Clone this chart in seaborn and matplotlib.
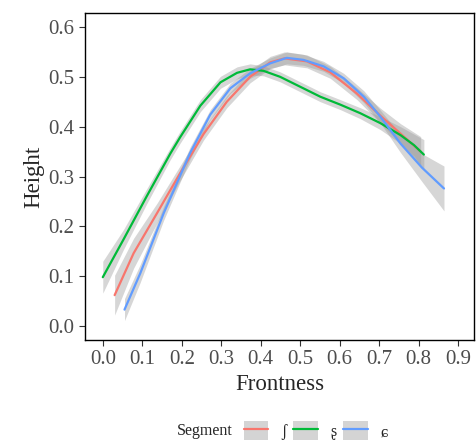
import pandas as pd
import matplotlib
matplotlib.use('Agg')
import matplotlib.pyplot as plt
import seaborn as sns
from matplotlib.lines import Line2D
from matplotlib.patches import Patch
from matplotlib.legend_handler import HandlerTuple

# values (smoothed curves + confidence half-widths)
segments = ['ʃ', 'ʂ', 'ɕ']
colors = ['#F8766D', '#00BA38', '#619CFF']

sh_x = [0.030, 0.078, 0.137, 0.196, 0.255, 0.314, 0.373, 0.424, 0.460, 0.517, 0.576, 0.644, 0.703, 0.754, 0.805]
sh_y = [0.062, 0.146, 0.226, 0.307, 0.385, 0.450, 0.500, 0.529, 0.537, 0.531, 0.509, 0.466, 0.422, 0.386, 0.350]
sh_se = [0.040, 0.030, 0.020, 0.015, 0.012, 0.012, 0.012, 0.012, 0.013, 0.013, 0.012, 0.012, 0.015, 0.020, 0.030]

sr_x = [0.000, 0.052, 0.111, 0.171, 0.196, 0.247, 0.298, 0.340, 0.373, 0.407, 0.449, 0.500, 0.551,
        0.602, 0.652, 0.703, 0.754, 0.788, 0.813]
sr_y = [0.098, 0.173, 0.260, 0.346, 0.379, 0.442, 0.489, 0.508, 0.515, 0.512, 0.500, 0.480, 0.460,
        0.444, 0.427, 0.407, 0.383, 0.363, 0.344]
sr_se = [0.032, 0.020, 0.015, 0.012, 0.012, 0.012, 0.012, 0.012, 0.011, 0.010, 0.010, 0.010, 0.010,
         0.010, 0.011, 0.013, 0.017, 0.022, 0.030]

ae_x = [0.055, 0.095, 0.154, 0.221, 0.272, 0.323, 0.373, 0.424, 0.466, 0.508, 0.559, 0.610, 0.661,
        0.703, 0.754, 0.808, 0.864]
ae_y = [0.033, 0.106, 0.226, 0.347, 0.424, 0.477, 0.507, 0.527, 0.538, 0.534, 0.521, 0.497, 0.460,
        0.420, 0.366, 0.318, 0.276]
ae_se = [0.022, 0.018, 0.014, 0.012, 0.010, 0.010, 0.010, 0.011, 0.012, 0.011, 0.010, 0.010, 0.012,
         0.013, 0.018, 0.028, 0.045]

x_ticks = [0.0, 0.1, 0.2, 0.3, 0.4, 0.5, 0.6, 0.7, 0.8, 0.9]
y_ticks = [0.0, 0.1, 0.2, 0.3, 0.4, 0.5, 0.6]

frames = []
for seg, xs, ys, se in zip(segments, [sh_x, sr_x, ae_x], [sh_y, sr_y, ae_y], [sh_se, sr_se, ae_se]):
    frames.append(pd.DataFrame({'Frontness': xs, 'Height': ys, 'se': se, 'Segment': seg}))
df = pd.concat(frames, ignore_index=True)

sns.set_style('ticks')
plt.rcParams['font.family'] = ['Liberation Serif', 'DejaVu Serif']

fig = plt.figure(figsize=(4.76, 4.41), dpi=100)
ax = fig.add_axes([0.1786, 0.229, 0.8172, 0.7415])

# grey confidence bands first, lines on top
for seg in segments:
    d = df[df['Segment'] == seg]
    ax.fill_between(d['Frontness'], d['Height'] - d['se'], d['Height'] + d['se'],
                    color='#999999', alpha=0.4, linewidth=0)

sns.lineplot(data=df, x='Frontness', y='Height', hue='Segment', hue_order=segments,
             palette=colors, linewidth=1.6, sort=False, legend=False, ax=ax)

ax.set_xlim(-0.045, 0.94)
ax.set_ylim(-0.028, 0.628)
ax.set_xticks(x_ticks)
ax.set_yticks(y_ticks)
ax.set_xticklabels([f'{t:.1f}' for t in x_ticks])
ax.set_yticklabels([f'{t:.1f}' for t in y_ticks])
ax.tick_params(labelsize=15, labelcolor='#4D4D4D', color='#333333', length=4, width=0.8)
ax.set_xlabel('Frontness', fontsize=16.5, labelpad=3)
ax.set_ylabel('Height', fontsize=16.5, labelpad=3)
for s in ax.spines.values():
    s.set_visible(True)
    s.set_color('black')
    s.set_linewidth(1.0)

# legend along the bottom: title on the left, keys with grey background
handles = [(Patch(facecolor='#D4D4D4', edgecolor='none'), Line2D([], [], color=c, lw=1.6)) for c in colors]
fig.text(0.372, 0.023, 'Segment', fontsize=11.5, va='center', ha='left')
fig.legend(handles, segments, loc='center left', bbox_to_anchor=(0.495, 0.023), ncol=3,
           frameon=False, fontsize=11.5, handlelength=1.55, handleheight=1.45,
           handletextpad=0.8, columnspacing=0.4, borderpad=0.0,
           handler_map={tuple: HandlerTuple(ndivide=1, pad=0)})

fig.savefig('out.png', dpi=100)
